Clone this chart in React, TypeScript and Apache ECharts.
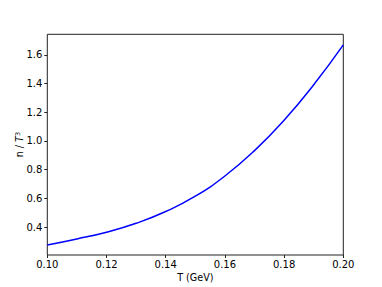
import React, { useEffect, useRef } from "react";
import * as echarts from "echarts";

const temperatures = [0.10, 0.11, 0.12, 0.13, 0.14, 0.15, 0.16, 0.17, 0.18, 0.19, 0.20];
const densityRatio = [0.275, 0.317, 0.364, 0.426, 0.508, 0.615, 0.756, 0.933, 1.145, 1.392, 1.67];
const yTickValues = [0.4, 0.6, 0.8, 1.0, 1.2, 1.4, 1.6];

export default function App() {
  const ref = useRef<HTMLDivElement>(null);
  useEffect(() => {
    const chart = echarts.init(ref.current!, null, { renderer: "svg" });
    const font = "DejaVu Sans";
    chart.setOption({
      animation: false,
      backgroundColor: "#ffffff",
      grid: {
        left: 47.3,
        right: 38.7,
        top: 34.3,
        bottom: 31.7,
        show: true,
        borderColor: "#222",
        borderWidth: 1,
        backgroundColor: "transparent",
      },
      xAxis: {
        type: "value",
        min: 0.1,
        max: 0.2,
        interval: 0.02,
        name: "T (GeV)",
        nameLocation: "middle",
        nameGap: 17,
        nameMoveOverlap: false,
        nameTextStyle: { fontFamily: font, fontSize: 9.6, color: "#000" },
        axisLine: { show: false },
        axisTick: { show: true, length: 3, lineStyle: { color: "#222" } },
        axisLabel: {
          margin: 4,
          fontFamily: font,
          fontSize: 10,
          color: "#000",
          formatter: (v: number) => v.toFixed(2),
        },
        splitLine: { show: false },
      },
      yAxis: {
        type: "value",
        min: 0.205,
        max: 1.744,
        name: "{a|n / }{i|T}{s|3}",
        nameLocation: "middle",
        nameGap: 22,
        nameMoveOverlap: false,
        nameRotate: 90,
        nameTextStyle: {
          fontFamily: font,
          fontSize: 9.6,
          color: "#000",
          rich: {
            a: { fontFamily: font, fontSize: 9.6, color: "#000" },
            i: { fontFamily: font, fontSize: 9.6, fontStyle: "italic", color: "#000" },
            s: { fontFamily: font, fontSize: 6.5, color: "#000", verticalAlign: "top", padding: [0, 0, 4, 0] },
          },
        },
        axisLine: { show: false },
        axisTick: { show: true, length: 3, customValues: yTickValues, lineStyle: { color: "#222" } },
        axisLabel: {
          margin: 5,
          fontFamily: font,
          fontSize: 10,
          color: "#000",
          customValues: yTickValues,
          formatter: (v: number) => v.toFixed(1),
        },
        splitLine: { show: false },
      },
      series: [
        {
          type: "line",
          data: temperatures.map((t, i) => [t, densityRatio[i]]),
          smooth: 0.5,
          showSymbol: false,
          lineStyle: { color: "#0000ff", width: 1.5 },
        },
      ],
    });
    return () => chart.dispose();
  }, []);
  return (
    <div
      ref={ref}
      style={{ position: "fixed", left: 0, top: 0, width: 382, height: 287 }}
    />
  );
}
